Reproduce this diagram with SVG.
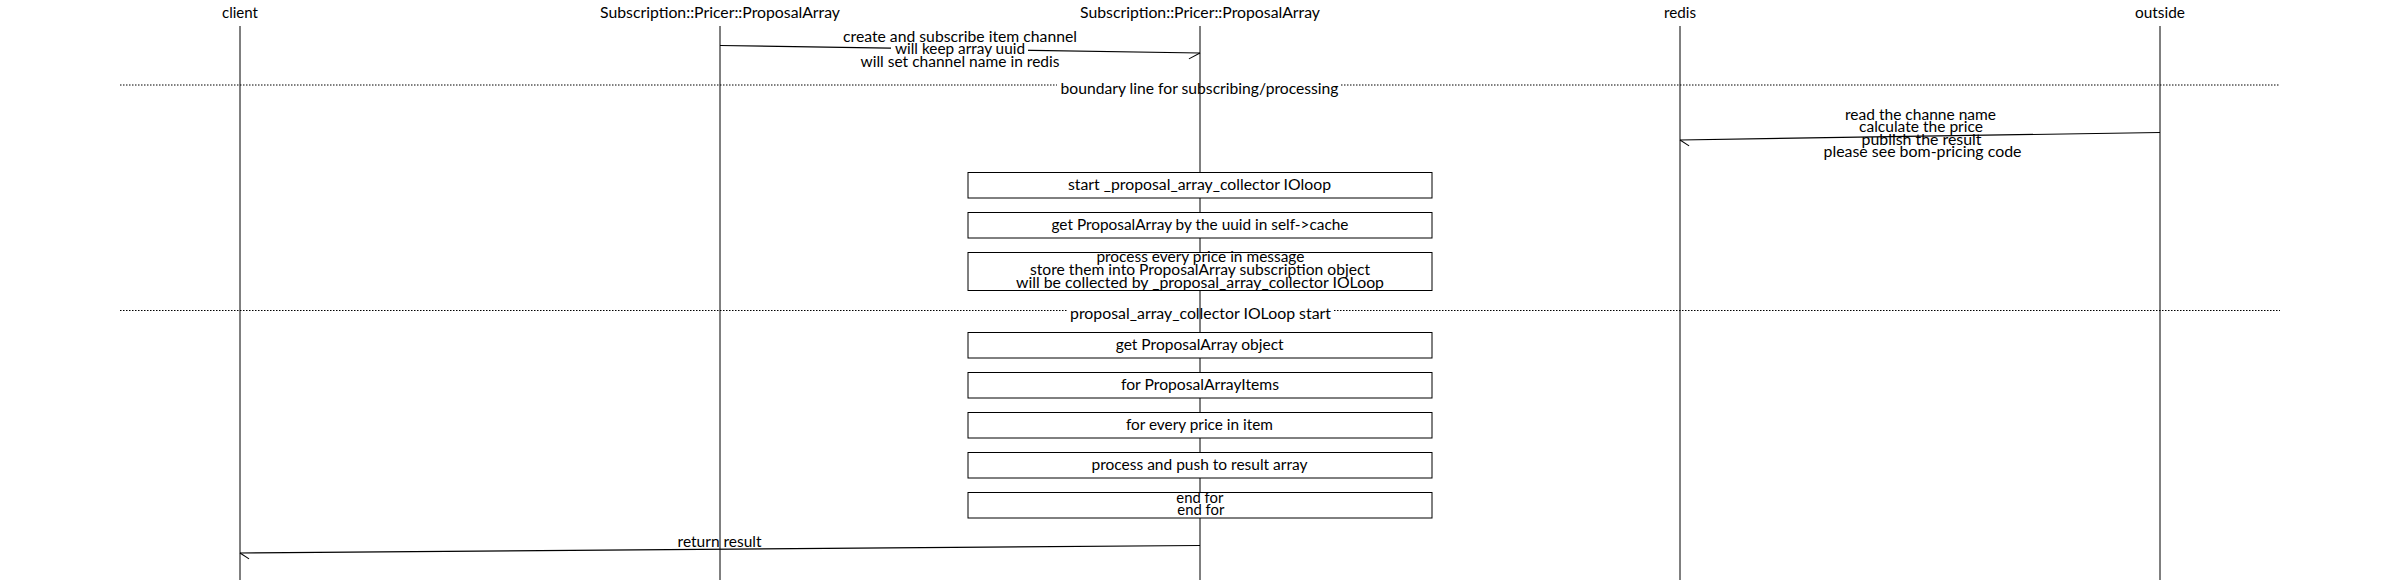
<svg xmlns="http://www.w3.org/2000/svg" width="2400" height="580" viewBox="0 0 2400 580">
<style>
  text { font-family: Lato, "Liberation Sans", sans-serif; font-size: 15.5px; fill: #000; text-anchor: middle; }
  .life { stroke: #000; stroke-width: 1; fill: none; }
  .box { fill: #fff; stroke: #000; stroke-width: 1; }
  .div { stroke: #000; stroke-width: 1; stroke-dasharray: 1.5 1.5; fill: none; }
  .msg { stroke: #000; stroke-width: 1.2; fill: none; }
  .bg { fill: #fff; stroke: none; }
</style>
<defs>
  <marker id="barbR" markerUnits="userSpaceOnUse" markerWidth="20" markerHeight="20" refX="0" refY="0" orient="auto" overflow="visible">
    <path d="M0,0 L-11,6" fill="none" stroke="#000" stroke-width="1"/>
  </marker>
  <marker id="barbL" markerUnits="userSpaceOnUse" markerWidth="20" markerHeight="20" refX="0" refY="0" orient="auto" overflow="visible">
    <path d="M0,0 L-9,-6" fill="none" stroke="#000" stroke-width="1"/>
  </marker>
</defs>
<rect x="0" y="0" width="2400" height="580" fill="#fff"/>

<g id="participants">
  <g id="p-client">
    <text x="240" y="18" textLength="36" lengthAdjust="spacingAndGlyphs">client</text>
    <line class="life" x1="240" y1="26" x2="240" y2="580"/>
  </g>
  <g id="p-pricer1">
    <text x="720" y="18" textLength="240" lengthAdjust="spacingAndGlyphs">Subscription::Pricer::ProposalArray</text>
    <line class="life" x1="720" y1="26" x2="720" y2="580"/>
  </g>
  <g id="p-pricer2">
    <text x="1200" y="18" textLength="240" lengthAdjust="spacingAndGlyphs">Subscription::Pricer::ProposalArray</text>
    <line class="life" x1="1200" y1="26" x2="1200" y2="580"/>
  </g>
  <g id="p-redis">
    <text x="1680" y="18" textLength="32" lengthAdjust="spacingAndGlyphs">redis</text>
    <line class="life" x1="1680" y1="26" x2="1680" y2="580"/>
  </g>
  <g id="p-outside">
    <text x="2160" y="18" textLength="50" lengthAdjust="spacingAndGlyphs">outside</text>
    <line class="life" x1="2160" y1="26" x2="2160" y2="580"/>
  </g>
</g>

<g id="dividers">
  <g id="div-boundary">
    <line class="div" x1="120" y1="85" x2="1057" y2="85"/>
    <line class="div" x1="1341" y1="85" x2="2280" y2="85"/>
    <text x="1199.5" y="93.5" textLength="278" lengthAdjust="spacingAndGlyphs">boundary line for subscribing/processing</text>
  </g>
  <g id="div-collector">
    <line class="div" x1="120" y1="310.5" x2="1067" y2="310.5"/>
    <line class="div" x1="1334" y1="310.5" x2="2280" y2="310.5"/>
    <text x="1200.5" y="319" textLength="261" lengthAdjust="spacingAndGlyphs">proposal_array_collector IOLoop start</text>
  </g>
</g>

<g id="connectors">
  <g id="m-create">
    <line class="msg" x1="720" y1="45.5" x2="1200" y2="53" marker-end="url(#barbR)"/>
    <rect class="bg" x="891" y="44" width="137" height="12"/>
    <text x="960" y="41.5" textLength="234" lengthAdjust="spacingAndGlyphs">create and subscribe item channel</text>
    <text x="960" y="54.3" textLength="130" lengthAdjust="spacingAndGlyphs">will keep array uuid</text>
    <text x="960" y="66.8" textLength="199" lengthAdjust="spacingAndGlyphs">will set channel name in redis</text>
  </g>
  <g id="m-publish">
    <line class="msg" x1="2160" y1="132.5" x2="1680" y2="140" marker-end="url(#barbL)"/>
    <text x="1920.5" y="120" textLength="151" lengthAdjust="spacingAndGlyphs">read the channe name</text>
    <text x="1921" y="132.3" textLength="124" lengthAdjust="spacingAndGlyphs">calculate the price</text>
    <text x="1921.5" y="144.5" textLength="120" lengthAdjust="spacingAndGlyphs">publish the result</text>
    <text x="1922.5" y="156.7" textLength="198" lengthAdjust="spacingAndGlyphs">please see bom-pricing code</text>
  </g>
  <g id="m-return">
    <line class="msg" x1="1200" y1="545.5" x2="240" y2="553" marker-end="url(#barbL)"/>
    <text x="719.6" y="546.5" textLength="84" lengthAdjust="spacingAndGlyphs">return result</text>
  </g>
</g>

<g id="box-start">
  <rect class="box" x="968" y="172.5" width="464" height="25.5"/>
  <text x="1199.5" y="190" textLength="263" lengthAdjust="spacingAndGlyphs">start _proposal_array_collector IOloop</text>
</g>
<g id="box-get-uuid">
  <rect class="box" x="968" y="212.5" width="464" height="25.5"/>
  <text x="1200" y="230" textLength="297" lengthAdjust="spacingAndGlyphs">get ProposalArray by the uuid in self-&gt;cache</text>
</g>
<g id="box-process">
  <rect class="box" x="968" y="252.5" width="464" height="38"/>
  <text x="1200.4" y="262" textLength="208" lengthAdjust="spacingAndGlyphs">process every price in message</text>
  <text x="1200" y="275" textLength="340" lengthAdjust="spacingAndGlyphs">store them into ProposalArray subscription object</text>
  <text x="1200" y="288.3" textLength="368" lengthAdjust="spacingAndGlyphs">will be collected by _proposal_array_collector IOLoop</text>
</g>
<g id="box-get-object">
  <rect class="box" x="968" y="332.5" width="464" height="25.5"/>
  <text x="1199.7" y="350" textLength="168" lengthAdjust="spacingAndGlyphs">get ProposalArray object</text>
</g>
<g id="box-for-items">
  <rect class="box" x="968" y="372.5" width="464" height="25.5"/>
  <text x="1200" y="390" textLength="158" lengthAdjust="spacingAndGlyphs">for ProposalArrayItems</text>
</g>
<g id="box-for-price">
  <rect class="box" x="968" y="412.5" width="464" height="25.5"/>
  <text x="1199.4" y="430" textLength="147" lengthAdjust="spacingAndGlyphs">for every price in item</text>
</g>
<g id="box-push">
  <rect class="box" x="968" y="452.5" width="464" height="25.5"/>
  <text x="1199.5" y="470" textLength="216" lengthAdjust="spacingAndGlyphs">process and push to result array</text>
</g>
<g id="box-end">
  <rect class="box" x="968" y="492.5" width="464" height="25.5"/>
  <text x="1199.8" y="502.7" textLength="47" lengthAdjust="spacingAndGlyphs">end for</text>
  <text x="1200.8" y="515" textLength="47" lengthAdjust="spacingAndGlyphs">end for</text>
</g>
</svg>
